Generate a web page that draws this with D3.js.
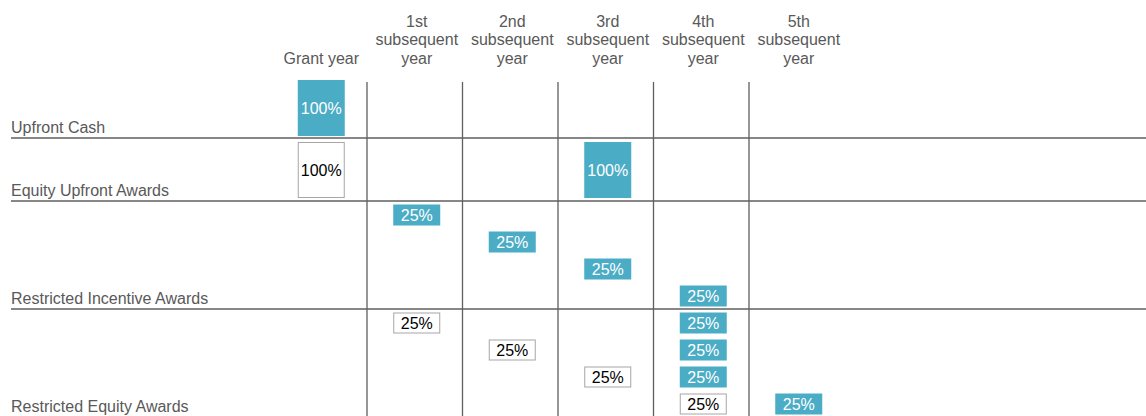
<!DOCTYPE html>
<html>
<head>
<meta charset="utf-8">
<script src="https://d3js.org/d3.v7.min.js"></script>
<style>
  html, body { margin: 0; padding: 0; background: #fff; }
  svg { display: block; font-family: "Liberation Sans", Arial, sans-serif; }
</style>
</head>
<body>
<div id="chart"></div>
<script>
// column headers (one entry per line)
const yearLabels = [
  ["Grant year"],
  ["1st", "subsequent", "year"],
  ["2nd", "subsequent", "year"],
  ["3rd", "subsequent", "year"],
  ["4th", "subsequent", "year"],
  ["5th", "subsequent", "year"]
];

const rowNames = [
  "Upfront Cash",
  "Equity Upfront Awards",
  "Restricted Incentive Awards",
  "Restricted Equity Awards"
];

// year = column index, slot = stacking position within the row, paid = filled box
const upfrontCash = [
  { year: 0, slot: 0, pct: 100, paid: true }
];
const equityUpfront = [
  { year: 0, slot: 0, pct: 100, paid: false },
  { year: 3, slot: 0, pct: 100, paid: true }
];
const restrictedIncentive = [
  { year: 1, slot: 0, pct: 25, paid: true },
  { year: 2, slot: 1, pct: 25, paid: true },
  { year: 3, slot: 2, pct: 25, paid: true },
  { year: 4, slot: 3, pct: 25, paid: true }
];
const restrictedEquity = [
  { year: 1, slot: 0, pct: 25, paid: false },
  { year: 2, slot: 1, pct: 25, paid: false },
  { year: 3, slot: 2, pct: 25, paid: false },
  { year: 4, slot: 0, pct: 25, paid: true },
  { year: 4, slot: 1, pct: 25, paid: true },
  { year: 4, slot: 2, pct: 25, paid: true },
  { year: 4, slot: 3, pct: 25, paid: false },
  { year: 5, slot: 3, pct: 25, paid: true }
];
const rowData = [upfrontCash, equityUpfront, restrictedIncentive, restrictedEquity];

// layout
const width = 1146, height = 416;
const blue = "#4BACC6", lineCol = "#5f5f5f", textCol = "#595959";
const rowTops = [78, 138, 201, 309];
const rowBottoms = [138, 201, 309, 417];
const tallBox = 56, smallBox = 21, boxW = 47;
const boxShift = 2; // boxes sit a little right of the band centre

const svg = d3.select("#chart").append("svg")
  .attr("width", width)
  .attr("height", height);

const x = d3.scaleBand()
  .domain(d3.range(yearLabels.length))
  .range([271.5, 844.5])
  .padding(0);

const slotY = d3.scaleLinear().domain([0, 1]).range([3.5, 30.5]);

// header
const head = svg.append("g").attr("fill", textCol).attr("font-size", 16);
yearLabels.forEach((lines, i) => {
  const n = lines.length;
  lines.forEach((t, j) => {
    head.append("text")
      .attr("x", x(i) + x.bandwidth() / 2 + boxShift)
      .attr("y", 64 - (n - 1 - j) * 18.6)
      .attr("text-anchor", "middle")
      .text(t);
  });
});

// grid
svg.append("g").selectAll("line")
  .data(d3.range(1, yearLabels.length))
  .join("line")
  .attr("x1", d => x(d)).attr("x2", d => x(d))
  .attr("y1", 82).attr("y2", height)
  .attr("stroke", lineCol).attr("stroke-width", 1.3);

svg.append("g").selectAll("line")
  .data(rowBottoms.slice(0, 3))
  .join("line")
  .attr("x1", 11).attr("x2", width)
  .attr("y1", d => d).attr("y2", d => d)
  .attr("stroke", lineCol).attr("stroke-width", 1.3);

// row labels
svg.append("g").selectAll("text")
  .data(rowNames)
  .join("text")
  .attr("x", 11)
  .attr("y", (d, i) => rowBottoms[i] - 5)
  .attr("fill", textCol)
  .attr("font-size", 16)
  .text(d => d);

// boxes
rowData.forEach((items, r) => {
  const tall = r < 2;
  const h = tall ? tallBox : smallBox;
  const g = svg.append("g");
  const cells = g.selectAll("g")
    .data(items)
    .join("g")
    .attr("transform", d => {
      const cx = x(d.year) + x.bandwidth() / 2 + boxShift;
      const top = tall ? rowTops[r] + (r === 0 ? 2 : 4) : rowTops[r] + slotY(d.slot);
      return `translate(${cx - boxW / 2},${top})`;
    });

  cells.append("rect")
    .attr("x", d => d.paid ? 0 : 0.5)
    .attr("y", d => d.paid ? 0 : 0.5)
    .attr("width", d => d.paid ? boxW : boxW - 1)
    .attr("height", d => d.paid ? h : h - 1)
    .attr("fill", d => d.paid ? blue : "#fff")
    .attr("stroke", d => d.paid ? "none" : "#a6a6a6")
    .attr("stroke-width", 1);

  cells.append("text")
    .attr("x", boxW / 2)
    .attr("y", h / 2)
    .attr("dy", "0.36em")
    .attr("text-anchor", "middle")
    .attr("font-size", 16)
    .attr("fill", d => d.paid ? "#fff" : "#000")
    .text(d => d.pct + "%");
});
</script>
</body>
</html>
